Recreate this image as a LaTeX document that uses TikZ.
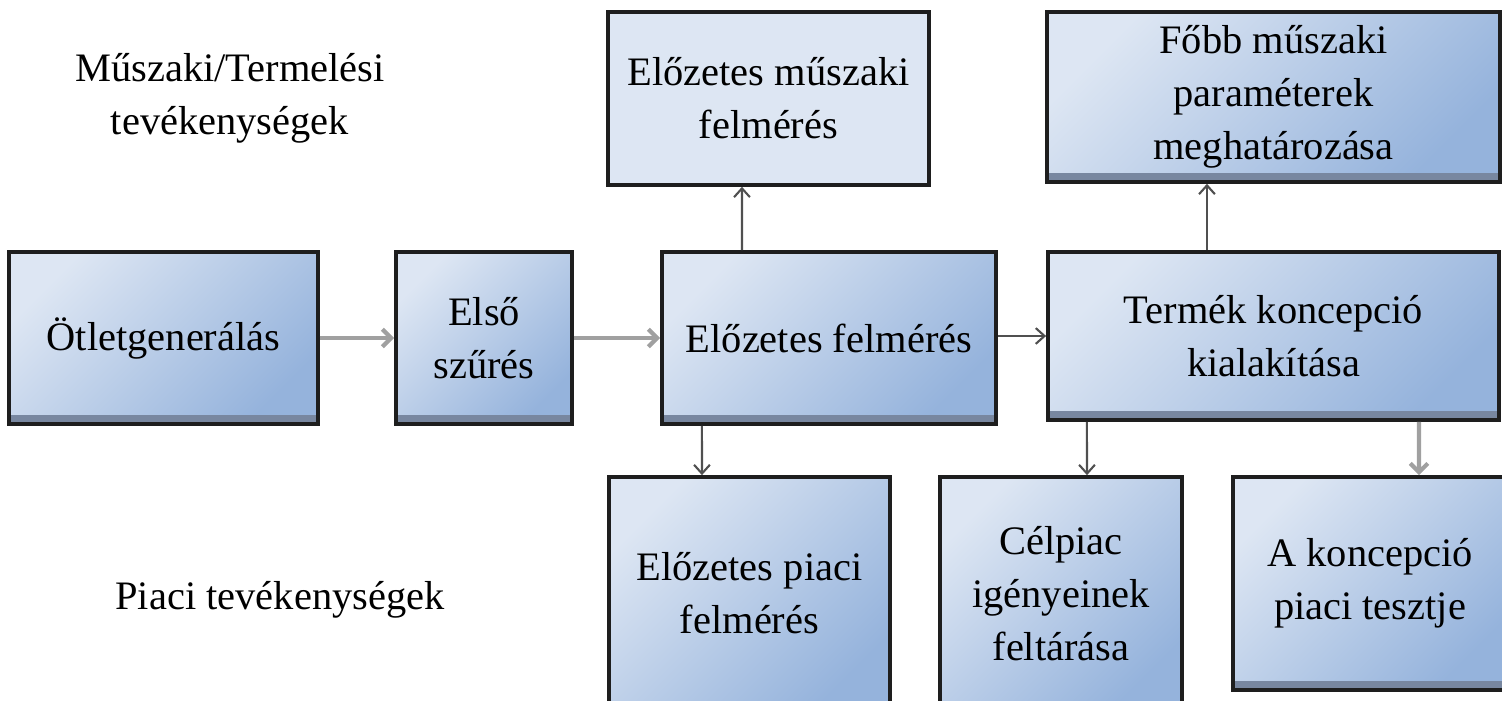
\documentclass[tikz,border=0pt]{standalone}
\usepackage{fontspec}
\setmainfont{Liberation Serif}
\usetikzlibrary{arrows.meta}
\definecolor{boxlite}{RGB}{221,230,243}
\definecolor{boxdeep}{RGB}{149,179,220}
\definecolor{boxedge}{RGB}{30,30,30}
\definecolor{boxband}{RGB}{120,135,160}
\definecolor{thinarrow}{RGB}{80,80,80}
\definecolor{fatarrow}{RGB}{160,160,160}
\tikzset{
  stage/.style={draw=boxedge, line width=1pt, inner sep=0pt, align=center,
    top color=boxlite, bottom color=boxdeep, shading angle=45,
    font=\fontsize{11.5}{15}\selectfont,
    path picture={\draw[boxband, line width=2pt]
      ([yshift=1.5pt]path picture bounding box.south west) --
      ([yshift=1.5pt]path picture bounding box.south east);}},
  flatstage/.style={draw=boxedge, line width=1pt, inner sep=0pt, align=center,
    fill=boxlite, font=\fontsize{11.5}{15}\selectfont},
  flow/.style={draw=thinarrow, line width=0.6pt, -{Straight Barb[length=2.5pt,width=4.5pt]}},
  fatflow/.style={draw=fatarrow, line width=1.2pt, -{Straight Barb[length=2.5pt,width=5pt]}},
  side/.style={align=center, font=\fontsize{11.5}{15}\selectfont}
}
\newcommand*{\StageBoxes}[1]{% #1 = list of name/x/y/w/h/text
  \foreach \name/\x/\y/\w/\h/\txt in {#1} {
    \node [stage, minimum width=\w cm, minimum height=\h cm] (\name)
      at (\x,\y) {\txt};
    }%
}

\begin{document}
\begin{tikzpicture}[x=0.01cm, y=-0.01cm]
  \useasboundingbox (0,0) rectangle (1502,701);
  \StageBoxes{idea/163.5/338/3.09/1.72/{Ötletgenerálás},
    first/484/338/1.76/1.72/{Első\\szűrés},
    pre/829/338/3.34/1.72/{Előzetes felmérés},
    concept/1273.5/336/4.51/1.68/{Termék koncepció\\kialakítása},
    params/1273.5/97/4.53/1.70/{Főbb műszaki\\paraméterek\\meghatározása},
    mktpre/749.5/593.5/2.81/2.33/{Előzetes piaci\\felmérés},
    target/1061/593.5/2.42/2.33/{Célpiac\\igényeinek\\feltárása},
    test/1370/583.5/2.74/2.13/{A koncepció\\piaci tesztje}}
  \node [flatstage, minimum width=3.21cm, minimum height=1.73cm] (techpre)
    at (768.5,98.5) {Előzetes műszaki\\felmérés};
  \node [side] (techlabel) at (230,98) {Műszaki/Termelési\\tevékenységek};
  \node [side] (mktlabel) at (280,600) {Piaci tevékenységek};
  % connectors
  \draw [fatflow] (idea) -- (first);
  \draw [fatflow] (first) -- (pre);
  \draw [flow] (pre.east |- concept.west) -- (concept.west);
  \draw [flow] ([xshift=-8.7mm]pre.north) -- ([xshift=-2.65mm]techpre.south);
  \draw [flow] ([xshift=-6.65mm]concept.north) -- ([xshift=-6.65mm]params.south);
  \draw [flow] ([xshift=-12.7mm]pre.south) -- ([xshift=-4.75mm]mktpre.north);
  \draw [flow] ([xshift=-18.65mm]concept.south) -- ([xshift=2.6mm]target.north);
  \draw [fatflow] ([xshift=14.55mm]concept.south) -- ([xshift=4.9mm]test.north);
\end{tikzpicture}
\end{document}
